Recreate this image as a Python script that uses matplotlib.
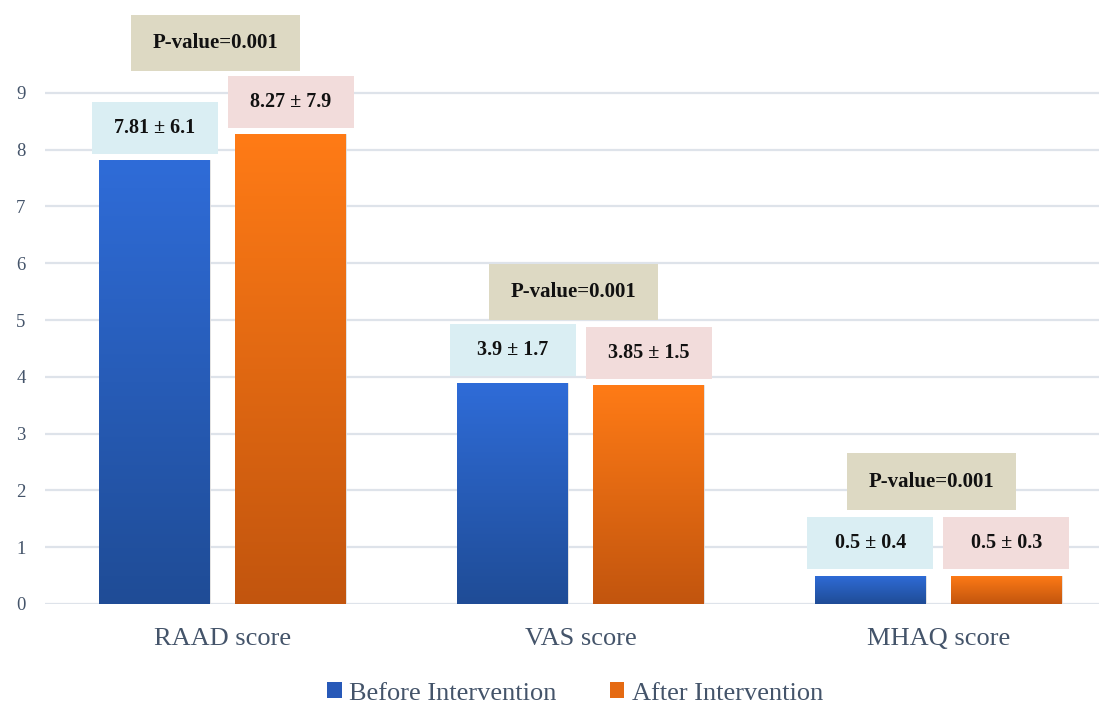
import numpy as np
import matplotlib
matplotlib.use("Agg")
import matplotlib.pyplot as plt
from matplotlib.colors import LinearSegmentedColormap
from matplotlib.patches import Rectangle, Patch

# Datos
categorias = ["RAAD score", "VAS score", "MHAQ score"]
antes = [7.81, 3.9, 0.5]
despues = [8.27, 3.85, 0.5]
etiq_antes = ["7.81 ± 6.1", "3.9 ± 1.7", "0.5 ± 0.4"]
etiq_despues = ["8.27 ± 7.9", "3.85 ± 1.5", "0.5 ± 0.3"]
p_valores = ["P-value=0.001", "P-value=0.001", "P-value=0.001"]
series = ["Before Intervention", "After Intervention"]

# Layout
ANCHO = 0.31
OFFSET = 0.19
P_Y = [9.39, 5.0, 1.66]  # base de las cajas de P-value
CAJA_W, CAJA_H = 0.352, 0.92
P_W, P_H = 0.472, 0.99
GRIS_TXT = "#44546A"
SERIF = ["Liberation Serif", "DejaVu Serif"]

cmap_azul = LinearSegmentedColormap.from_list("azul", ["#1F4C96", "#2F6CD8"])
cmap_naranja = LinearSegmentedColormap.from_list("naranja", ["#C2550E", "#FF7B16"])

fig = plt.figure(figsize=(11.04, 7.05), dpi=100)
ax = fig.add_axes([0.0408, 0.1433, 0.955, 0.857])

x = np.arange(len(categorias))
grad = np.linspace(0, 1, 256).reshape(-1, 1)


def barras_gradiente(xs, vals, cmap):
    bars = ax.bar(xs, vals, width=ANCHO, color="none", zorder=2,
                  edgecolor="#DDDDDD", linewidth=0.6)
    for b in bars:
        x0, w, h = b.get_x(), b.get_width(), b.get_height()
        im = ax.imshow(grad, extent=[x0, x0 + w, 0, h], origin="lower",
                       cmap=cmap, aspect="auto", zorder=2)
        im.set_clip_path(b)
    return bars


barras_gradiente(x - OFFSET, antes, cmap_azul)
barras_gradiente(x + OFFSET, despues, cmap_naranja)


def caja(xc, y0, w, h, texto, color, fs):
    ax.add_patch(Rectangle((xc - w / 2, y0), w, h, facecolor=color,
                           edgecolor="none", zorder=3))
    ax.text(xc, y0 + h / 2, texto, ha="center", va="center", fontsize=fs,
            fontweight="bold", family=SERIF, color="#111111", zorder=4)


for i in range(len(categorias)):
    caja(x[i] - OFFSET, antes[i] + 0.11, CAJA_W, CAJA_H, etiq_antes[i], "#DAEEF3", 14.5)
    caja(x[i] + OFFSET, despues[i] + 0.11, CAJA_W, CAJA_H, etiq_despues[i], "#F2DCDB", 14.5)
    caja(x[i] - 0.02, P_Y[i], P_W, P_H, p_valores[i], "#DDD9C3", 15)

ax.set_xlim(-0.497, 2.45)
ax.set_ylim(0, 10.64)
ax.set_yticks(range(10))
ax.set_xticks(x)
ax.set_xticklabels(categorias, fontsize=19, family=SERIF, color=GRIS_TXT)
ax.tick_params(axis="y", labelsize=13.5, labelcolor=GRIS_TXT, length=0, pad=14)
ax.tick_params(axis="x", length=0, pad=17)
for lab in ax.get_yticklabels():
    lab.set_family(SERIF)
ax.grid(axis="y", color="#DEE3EA", linewidth=1.6, zorder=0)
ax.set_axisbelow(True)
for s in ax.spines.values():
    s.set_visible(False)

handles = [Patch(facecolor="#2759B8", label=series[0]),
           Patch(facecolor="#E56A12", label=series[1])]
leg = fig.legend(handles=handles, loc="lower center", ncol=2,
                 bbox_to_anchor=(0.521, -0.033), frameon=False,
                 prop={"family": SERIF, "size": 19},
                 handlelength=0.55, handleheight=0.55, handletextpad=0.3,
                 columnspacing=2.0)
for t in leg.get_texts():
    t.set_color(GRIS_TXT)

fig.savefig("out.png", dpi=100)
